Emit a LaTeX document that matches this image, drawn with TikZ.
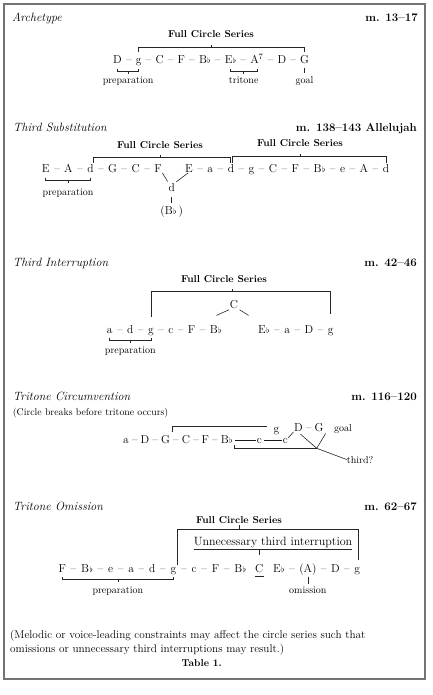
\documentclass[tikz,border=0pt]{standalone}
\usetikzlibrary{calc}
\newcommand\fl{\kern0.04em{\footnotesize$\flat$}}
\tikzset{
 ch/.style={inner sep=0pt, font=\fontsize{11.5}{13}\selectfont, anchor=base west},
 dsh/.style={inner ysep=0pt, font=\fontsize{11.5}{13}\selectfont, anchor=base west},
 ttl/.style={inner sep=0pt, font=\fontsize{12}{14}\selectfont\itshape, anchor=base west},
 mref/.style={inner sep=0pt, font=\fontsize{11.5}{14}\selectfont\bfseries, anchor=base east},
 fcs/.style={inner sep=0pt, font=\fontsize{10}{12}\selectfont\bfseries, anchor=base},
 lab/.style={inner sep=0pt, font=\fontsize{10}{12}\selectfont, anchor=base},
 note/.style={inner sep=0pt, font=\fontsize{11.2}{13}\selectfont, anchor=base west},
 br/.style={line width=0.6pt, draw=black!85},
 ld/.style={line width=0.5pt, draw=black!90},
 ul/.style={line width=0.8pt, draw=black!85},
 frame/.style={line width=1.2pt, draw=black!55},
}
\newcommand\chordseq[4][4.1pt]{%
  \foreach \c [count=\i] in {#4}{%
    \ifnum\i=1
      \node[ch] (#2\i) at (#3) {\c};
    \else
      \pgfmathtruncatemacro\j{\i-1}%
      \node[dsh, inner xsep=#1] (#2d\i) at (#2\j.base east) {--};
      \node[ch] (#2\i) at (#2d\i.base east) {\c};
    \fi}}
\newcommand\ubr[3]{%
  \draw[br] ($(#1.base)+(0,#3-2.5)$) -- ($(#1.base)+(0,#3)$) -- ($(#2.base)+(0,#3)$) -- ($(#2.base)+(0,#3-2.5)$);
  \draw[br] ($(#1.base)!0.5!(#2.base)+(0,#3)$) -- ++(0,2.5);}
\begin{document}
\begin{tikzpicture}[x=1pt,y=-1pt]
\useasboundingbox (0,0) rectangle (432,695);
\draw[frame] (4,4) rectangle (425,679);

% ---------- Archetype
\node[ttl] (t1) at (12,22) {Archetype};
\node[mref] (m1) at (418,22) {m. 13--17};
\chordseq[3.8pt]{a}{113,64}{D,g,C,F,B\fl,E\fl,A\textsuperscript{7},D,G}
\node[fcs] (f1) at (211,37.3) {Full Circle Series};
\draw[br] ($(a2.base)+(0,-12)$) -- ($(a2.base)+(0,-16.7)$) -- ($(a9.base)+(0,-16.7)$) -- ($(a9.base)+(0,-12)$);
\draw[br] ($(f1.south)+(0,7)$) -- ($(f1.south)+(0,10)$);
\ubr{a1}{a2}{7.5}
\node[lab] (p1) at ($(a1.base)!0.5!(a2.base)+(0,20)$) {preparation};
\ubr{a6}{a7}{7.5}
\node[lab] (tr1) at ($(a6.base)!0.5!(a7.base)+(0,20)$) {tritone};
\draw[br] ($(a9.base)+(0,4)$) -- ($(a9.base)+(0,9)$);
\node[lab] (g1) at ($(a9.base)+(0,20)$) {goal};

% ---------- Third Substitution
\node[ttl] (t2) at (13,131.7) {Third Substitution};
\node[mref] (m2) at (417,132) {m. 138--143 Allelujah};
\chordseq{b}{41.7,172}{E,A,d,G,C,F}
\chordseq{e}{185,172}{E,a,d,g,C,F,B\fl,e,A,d}
\node[fcs] (f2) at (160,148.3) {Full Circle Series};
\node[fcs] (f3) at (300,147) {Full Circle Series};
\draw[br] ($(b3.base east)+(0,-9)$) -- ($(b3.base east)+(0,-14.7)$) -- ($(e3.base)+(-0.8,-14.7)$) -- ($(e3.base)+(-0.8,-9)$);
\draw[br] ($(e3.base)+(1,-9)$) -- ($(e3.base)+(1,-15.3)$) -- ($(e10.base)+(0,-15.3)$) -- ($(e10.base)+(0,-9)$);
\draw[br] ($(f2.south)+(0,6)$) -- ($(f2.south)+(0,9)$);
\draw[br] ($(f3.south)+(0,6.5)$) -- ($(f3.south)+(0,9.7)$);
\node[ch, anchor=base] (bd) at (171.7,191) {d};
\node[ch, anchor=base] (bb) at (171.7,214) {(B\fl\,)};
\draw[br, shorten <=1pt, shorten >=1.5pt] (b6.south east) -- (bd.north west);
\draw[br, shorten <=1pt, shorten >=1.5pt] (e1.south) -- (bd.north east);
\draw[br, shorten <=6pt, shorten >=2.5pt] (bd.south) -- (bb.north);
\ubr{b1}{b3}{8}
\node[lab] (p2) at ($(b1.base)!0.5!(b3.base)+(0,23)$) {preparation};

% ---------- Third Interruption
\node[ttl] (t3) at (12.7,266.7) {Third Interruption};
\node[mref] (m3) at (417,266) {m. 42--46};
\chordseq{u}{106.7,333.5}{a,d,g,c,F,B\fl}
\chordseq{v}{258,333.5}{E\fl,a,D,g}
\node[ch, anchor=base] (uc) at (234,308) {C};
\draw[br] ($(uc.south west)+(-0.7,1.3)$) -- ++(-12.6,5.7);
\draw[br] ($(uc.south east)+(1.3,1.3)$) -- ++(9,5.7);
\node[fcs] (f4) at (224,282) {Full Circle Series};
\draw[br] ($(u3.base)+(0,-16.8)$) -- ($(u3.base)+(0,-41.8)$) -- ($(v4.base)+(0,-41.8)$) -- ($(v4.base)+(0,-19.5)$);
\draw[br] ($(f4.south)+(8,6.5)$) -- ($(f4.south)+(8,9.7)$);
\ubr{u1}{u3}{6.5}
\node[lab] (p3) at ($(u1.base)!0.5!(u3.base)+(0,19.5)$) {preparation};

% ---------- Tritone Circumvention
\node[ttl] (t4) at (12.7,400) {Tritone Circumvention};
\node[lab, anchor=base west, font=\fontsize{9.8}{12}\selectfont] (s4) at (12.7,415) {(Circle breaks before tritone occurs)};
\node[mref] (m4) at (417,400) {m. 116--120};
\chordseq[2.7pt]{w}{123,443.5}{a,D,G,C,F,B\fl}
\node[ch] (ca) at (256.7,443.5) {c};
\node[ch] (cb) at (282.7,443.5) {c};
\draw[ld] ($(w6.base east)+(2.5,-3.3)$) -- ($(ca.base west)+(-1,-3.3)$);
\draw[ld] ($(ca.base east)+(1.5,-3.3)$) -- ($(cb.base west)+(-1,-3.3)$);
\node[ch, anchor=base] (g4) at (276.5,432) {g};
\chordseq[2.7pt]{x}{294,431}{D,G}
\node[lab, anchor=base west] (goal2) at (334,431) {goal};
\draw[br, shorten <=0.5pt, shorten >=1pt] (cb.north east) -- (x1.south west);
\draw[br] ($(w3.base east)+(2,-12)$) -- ($(w3.base east)+(2,-16.8)$) -- ($(g4.base west)+(-6.3,-5.3)$);
\coordinate (J) at (316.7,448.3);
\draw[br] ($(w6.base east)+(1.5,1.8)$) -- ($(w6.base east)+(1.5,4.8)$) -- (J);
\draw[br] ($(x1.south)+(2,3)$) -- (J) -- ($(x2.south east)+(2,2)$);
\node[lab, anchor=base west] (th) at (346.7,463) {third?};
\draw[br] (J) -- (th.west);

% ---------- Tritone Omission
\node[ttl] (t5) at (12.7,510) {Tritone Omission};
\node[mref] (m5) at (417,510) {m. 62--67};
\chordseq[4.4pt]{y}{58.3,572.5}{F,B\fl,e,a,d,g,c,F,B\fl}
\node[ch] (yc) at (255,572.5) {C};
\draw[br] ($(yc.base west)+(0,3.5)$) -- ($(yc.base east)+(0,3.5)$);
\chordseq{z}{273,572.5}{E\fl,(A),D,g}
\node[fcs] (f5) at (239,523) {Full Circle Series};
\draw[br] ($(f5.south)+(0,2)$) -- ($(f5.south)+(0,6.3)$);
\draw[br] ($(y6.base east)+(1,-7.5)$) -- ($(y6.base east)+(1,-43.2)$) -- ($(z4.base east)+(-1.5,-43.2)$) -- ($(z4.base east)+(-1.5,-12.5)$);
\node[ch, font=\fontsize{12}{14}\selectfont, anchor=base] (ut) at (273,545) {Unnecessary third interruption};
\draw[ul] ($(ut.base west)+(0,4.3)$) -- ($(ut.base east)+(0,4.3)$);
\draw[br] (yc.north |- 0,550) -- (yc.north |- 0,555);
\ubr{y1}{y6}{6.8}
\node[lab] (p5) at ($(y1.base)!0.5!(y6.base)+(0,20.5)$) {preparation};
\draw[br] ($(z2.base)+(0,4.2)$) -- ($(z2.base)+(0,11.5)$);
\node[lab] (om) at ($(z2.base)+(0,20.5)$) {omission};

% ---------- note
\node[note] (n1) at (10,638) {(Melodic or voice-leading constraints may affect the circle series such that};
\node[note] (n2) at (10,652) {omissions or unnecessary third interruptions may result.)};
\node[fcs] (tab) at (201.7,666.7) {Table 1.};
\end{tikzpicture}
\end{document}
